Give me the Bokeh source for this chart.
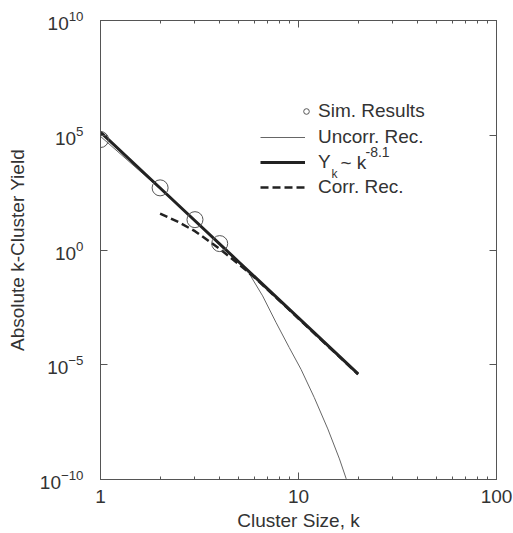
from bokeh.plotting import figure
from bokeh.models import (Range1d, FixedTicker, LogAxis, PrintfTickFormatter,
                          CustomJSTickFormatter, Legend, LegendItem, Label)
from bokeh.embed import file_html
from bokeh.resources import INLINE

# ---- data ----
k_sim = [1, 2, 3, 4]
y_sim = [6.5e4, 5.1e2, 2.1e1, 1.9]

k_fit = [1, 2, 5, 10, 20]
y_fit = [1.38e5, 5.04e2, 3.0e-1, 1.1e-3, 4.0e-6]

k_uncorr = [1, 2, 3, 4, 5, 5.64, 6.59, 7.69, 8.98, 10.3, 12.0, 14.06, 16.1, 17.4, 18.2]
y_uncorr = [8.9e4, 4.6e2, 1.82e1, 1.66, 2.7e-1, 9.3e-2, 1.0e-2, 7.1e-4, 5.6e-5,
            6.3e-6, 3.8e-7, 1.6e-8, 7.9e-10, 1.1e-10, 3.2e-11]

k_corr = [2, 2.5, 3, 4, 5, 6, 8, 10, 15, 20]
y_corr = [3.89e1, 1.58e1, 6.6, 1.12, 2.4e-1, 6.3e-2, 6.3e-3, 1.02e-3, 3.9e-5, 3.8e-6]

x_major = [1, 10, 100]
x_minor = [2, 3, 4, 5, 6, 7, 8, 9, 20, 30, 40, 50, 60, 70, 80, 90]
y_major = [1e-10, 1e-5, 1, 1e5, 1e10]

FONT = "Liberation Sans"
TEXT = "#333333"
AX = "#555555"

p = figure(x_axis_type="log", y_axis_type="log",
           x_range=Range1d(1, 100), y_range=Range1d(1e-10, 1e10),
           width=513, height=533,
           min_border_left=100, min_border_right=17,
           min_border_top=20, min_border_bottom=52,
           output_backend="svg", toolbar_location=None)
p.grid.visible = False
p.outline_line_color = AX
p.background_fill_color = "white"

xticker = FixedTicker(ticks=x_major, minor_ticks=x_minor)
yticker = FixedTicker(ticks=y_major, minor_ticks=[])


def style_axis(ax):
    ax.axis_line_color = AX
    ax.major_tick_line_color = AX
    ax.minor_tick_line_color = AX
    ax.major_tick_in = 7
    ax.major_tick_out = 0
    ax.minor_tick_in = 3
    ax.minor_tick_out = 0
    ax.major_label_text_font = FONT
    ax.major_label_text_font_size = "19px"
    ax.major_label_text_color = TEXT
    ax.axis_label_text_font = FONT
    ax.axis_label_text_font_size = "19px"
    ax.axis_label_text_font_style = "normal"
    ax.axis_label_text_color = TEXT


xa = p.xaxis[0]
xa.ticker = xticker
xa.formatter = PrintfTickFormatter(format="%d")
style_axis(xa)
xa.major_label_standoff = 10
xa.axis_label = "Cluster Size, k"
xa.axis_label_standoff = 4

ya = p.yaxis[0]
ya.ticker = yticker
style_axis(ya)
ya.major_label_standoff = 17
ya.axis_label = "Absolute k-Cluster Yield"
ya.axis_label_standoff = 9

top = LogAxis(ticker=xticker, formatter=CustomJSTickFormatter(code='return ""'))
style_axis(top)
top.major_label_text_font_size = "0px"
top.major_label_standoff = 0
p.add_layout(top, "above")

right = LogAxis(ticker=yticker, formatter=CustomJSTickFormatter(code='return ""'))
style_axis(right)
right.major_label_text_font_size = "0px"
right.major_label_standoff = 0
p.add_layout(right, "right")

# ---- series ----
r_unc = p.line(k_uncorr, y_uncorr, line_color="#666666", line_width=1)
r_corr = p.line(k_corr, y_corr, line_color="#222222", line_width=2.5, line_dash="8 4")
r_fit = p.line(k_fit, y_fit, line_color="#222222", line_width=3)
r_sim = p.scatter(k_sim, y_sim, marker="circle", size=16, fill_color=None,
                  line_color="#555555", line_width=1)

# ---- legends ----
common = dict(padding=0, margin=0, border_line_color=None, background_fill_alpha=0,
              label_text_font=FONT, label_text_font_size="19px", label_text_color=TEXT,
              label_height=20, glyph_height=20, spacing=3)
leg1 = Legend(items=[LegendItem(label="Sim. Results", renderers=[r_sim])],
              location=(199, 357), glyph_width=14, label_standoff=5, **common)
leg2 = Legend(items=[LegendItem(label="Uncorr. Rec.", renderers=[r_unc]),
                     LegendItem(label="Y", renderers=[r_fit]),
                     LegendItem(label="Corr. Rec.", renderers=[r_corr])],
              location=(160, 281), glyph_width=45, label_standoff=13, **common)
p.add_layout(leg1)
p.add_layout(leg2)

lab_kw = dict(x_units="screen", y_units="screen", text_font=FONT,
              text_color=TEXT, text_baseline="middle", text_align="left")
p.add_layout(Label(x=231, y=306, text="k", text_font_size="12px", **lab_kw))
p.add_layout(Label(x=240, y=317, text="~ k", text_font_size="19px", **lab_kw))
p.add_layout(Label(x=265, y=328, text="-8.1", text_font_size="14px", **lab_kw))

open("out.html", "w").write(file_html(p, INLINE))
